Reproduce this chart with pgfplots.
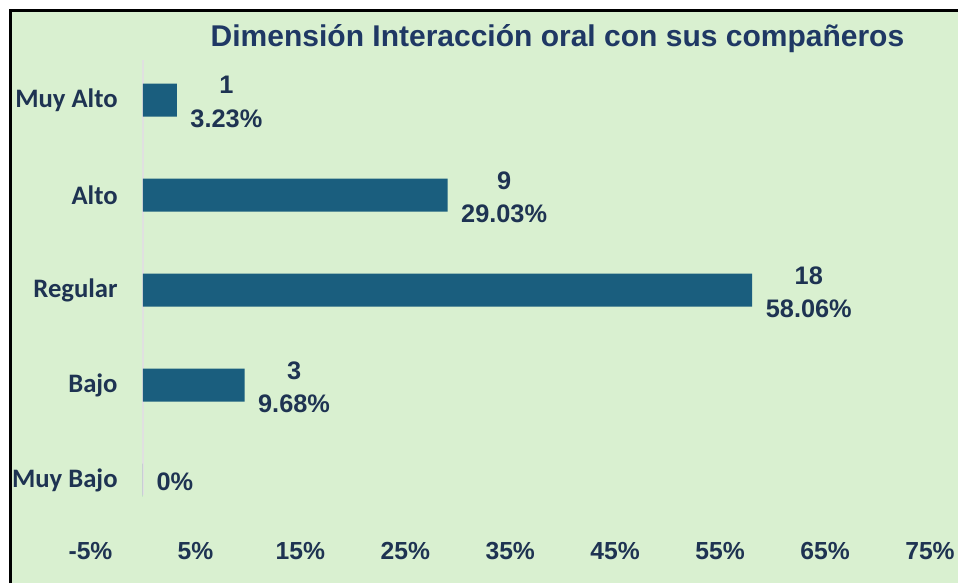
\documentclass[border=0pt]{standalone}
\usepackage{fontspec}
\setmainfont{Liberation Sans}
\newfontfamily\calfont{Carlito}
\usepackage{pgfplots}
\pgfplotsset{compat=1.18}
\definecolor{bg}{HTML}{D9F0D0}
\definecolor{barc}{HTML}{1A5E7E}
\definecolor{txt}{HTML}{1E3352}
\definecolor{ttl}{HTML}{1F3864}
\begin{document}
\begin{tikzpicture}[x=0.75pt,y=0.75pt]
\useasboundingbox (0,0) rectangle (958,583);
\fill[white] (0,0) rectangle (958,583);
\fill[bg] (12,0) rectangle (958,571);
\draw[black, line width=2.25pt] (9,572.5) -- (958,572.5);
\draw[black, line width=2.25pt] (10.5,0) -- (10.5,574);
\node[font=\bfseries\fontsize{22.5}{26}\selectfont, text=ttl] at (557.5,544) {Dimensión Interacción oral con sus compañeros};
\begin{axis}[
  at={(67.875pt,41.625pt)}, anchor=south west,
  scale only axis, width=629.625pt, height=356.25pt,
  xmin=-5, xmax=75, ymin=-0.5, ymax=4.5,
  xbar, bar width=24.75pt,
  axis line style={draw=none},
  major tick length=0pt,
  clip=false,
  xtick={-5,5,...,75},
  xticklabel={\pgfmathprintnumber{\tick}\%},
  /pgf/number format/assume math mode=true,
  xticklabel style={font=\bfseries\fontsize{18.5}{20}\selectfont, text=txt, anchor=center, yshift=-17.6pt},
  ytick={0,1,2,3,4},
  yticklabels={Muy Bajo,Bajo,Regular,Alto,Muy Alto},
  yticklabel style={font=\calfont\bfseries\fontsize{20}{24}\selectfont, text=txt, anchor=east, inner sep=0pt, xshift=20.5pt},
  point meta=explicit symbolic,
  nodes near coords,
  nodes near coords style={font=\bfseries\fontsize{19}{25}\selectfont, text=txt, align=center, anchor=west, inner sep=0pt, xshift=10pt, yshift=-1.5pt},
]
\draw[color=black!12, line width=0.8pt] (axis cs:0,-0.16) -- (axis cs:0,4.42);
\addplot[fill=barc, draw=none] coordinates {
  (0,0) [{0\%}]
  (9.68,1) [{3\\9.68\%}]
  (58.06,2) [{18\\58.06\%}]
  (29.03,3) [{9\\29.03\%}]
  (3.23,4) [{1\\3.23\%}]
};
\end{axis}
\end{tikzpicture}
\end{document}
